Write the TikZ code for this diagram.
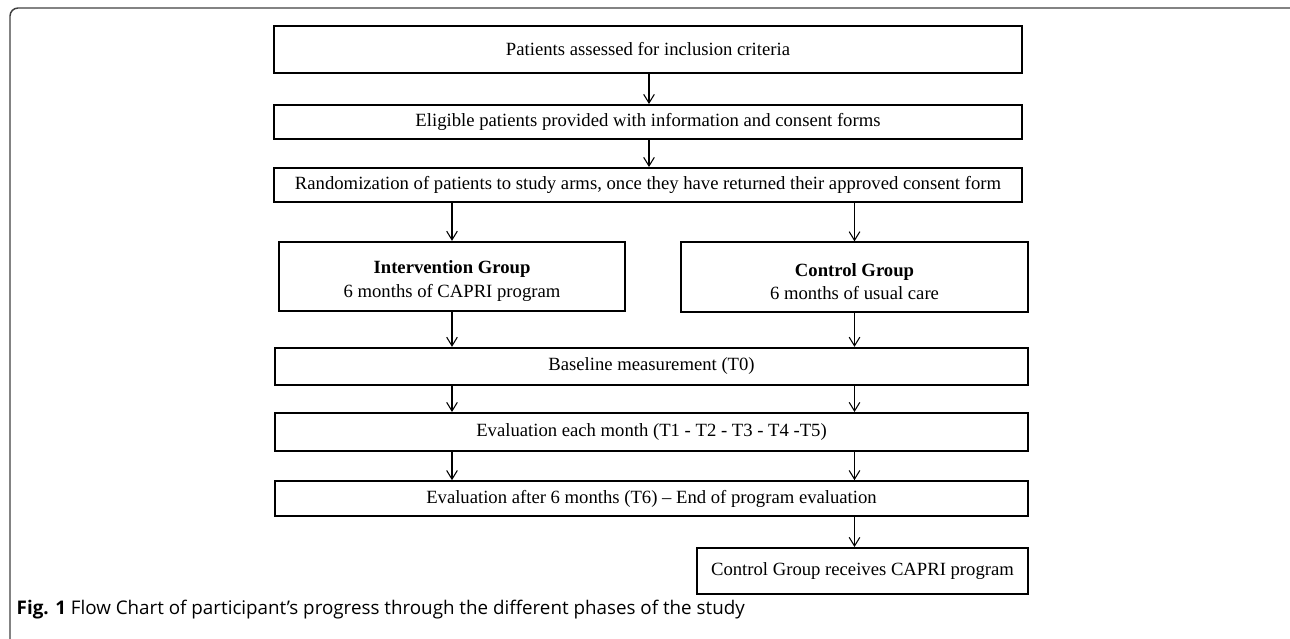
\documentclass[tikz,border=0pt]{standalone}
\usepackage{fontspec}
\setmainfont{Liberation Serif}
\newfontfamily\capfont{Open Sans}
\usetikzlibrary{arrows.meta}

\newcommand{\topstrut}{\rule{0pt}{16.5pt}}

\begin{document}
\begin{tikzpicture}[
    x=0.75pt, y=-0.75pt,
    every node/.style={font=\fontsize{14}{17.5}\selectfont},
    box/.style={rectangle, draw, line width=1.5pt, align=center, inner sep=1pt},
    widebox/.style={box, minimum width=561pt},
    groupbox/.style={box, minimum width=260pt, minimum height=52pt},
    edge/.style={draw, line width=0.8pt, -{Straight Barb[length=6.5pt, width=8pt, line width=0.8pt]}},
    frame/.style={draw=black!75, line width=1.1pt, rounded corners=6pt},
    caption/.style={anchor=base west, font=\capfont\fontsize{14.1}{17}\selectfont}
]
\useasboundingbox (0,0) rectangle (1290,639);

% Outer frame (cut at the right and bottom)
\begin{scope}
\clip (0,0) rectangle (1290,639);
\draw[frame] (10,8) rectangle (1298,647);
\end{scope}

% Recruitment
\node[widebox, minimum height=35pt] (assess) at (648, 49.5) {Patients assessed for inclusion criteria};
\node[widebox, minimum height=25.5pt] (consent) at (648, 122) {Eligible patients provided with information and consent forms};
\node[widebox, minimum height=25.5pt] (random) at (648, 185) {Randomization of patients to study arms, once they have returned their approved consent form};

% Study arms
\node[groupbox] (interv) at (452, 276.5) {\topstrut\textbf{Intervention Group}\\6 months of CAPRI program};
\node[groupbox] (control) at (854.5, 277) {\topstrut\textbf{Control Group}\\6 months of usual care};

% Measurements
\node[box, minimum width=565pt, minimum height=28pt] (base) at (651.5, 366.5) {Baseline measurement (T0)};
\node[box, minimum width=565pt, minimum height=28.5pt] (monthly) at (651.5, 432) {Evaluation each month (T1 - T2 - T3 - T4 -T5)};
\node[box, minimum width=565pt, minimum height=26pt] (final) at (651.5, 498.5) {Evaluation after 6 months (T6) -- End of program evaluation};
\node[box, minimum width=248pt, minimum height=34.5pt] (crossover) at (862.5, 571) {Control Group receives CAPRI program};

% Edges
\draw[edge] (assess.south -| 649,0) -- (consent.north -| 649,0);
\draw[edge] (consent.south -| 649,0) -- (random.north -| 649,0);
\draw[edge] (interv.north |- random.south) -- (interv.north);
\draw[edge] (control.north |- random.south) -- (control.north);
\draw[edge] (interv.south) -- (interv.south |- base.north);
\draw[edge] (control.south) -- (control.south |- base.north);
\draw[edge] (interv.south |- base.south) -- (interv.south |- monthly.north);
\draw[edge] (control.south |- base.south) -- (control.south |- monthly.north);
\draw[edge] (interv.south |- monthly.south) -- (interv.south |- final.north);
\draw[edge] (control.south |- monthly.south) -- (control.south |- final.north);
\draw[edge] (control.south |- final.south) -- (control.south |- crossover.north);

% Caption
\node[caption] (cap) at (12, 614) {\textbf{Fig. 1} Flow Chart of participant’s progress through the different phases of the study};

\end{tikzpicture}
\end{document}
